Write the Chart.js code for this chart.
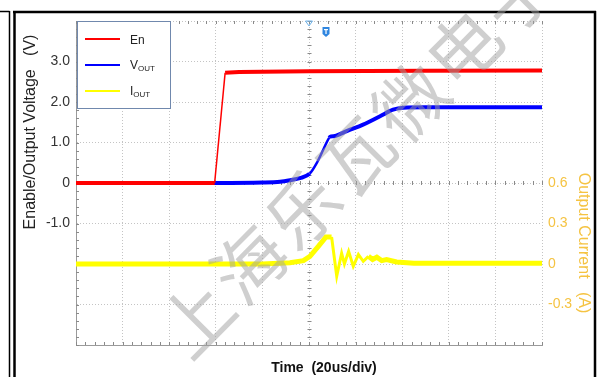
<!DOCTYPE html>
<html>
<head>
<meta charset="utf-8">
<script src="https://cdn.jsdelivr.net/npm/chart.js@4.4.1/dist/chart.umd.min.js"></script>
<style>
html,body{margin:0;padding:0;background:#fff;}
canvas{display:block;}
</style>
</head>
<body>
<canvas id="scope" width="598" height="377"></canvas>
<script>
// time in us, 20us/div, trigger at 0
var timeEn = [-100, -40.5, -36, -30, 0, 50, 100];
var enVolts = [0, 0, 2.72, 2.74, 2.76, 2.77, 2.78];

var timeVout = [-100, -40, -20, -12.4, -8, -3.9, 0.3, 3.3, 6.1, 8.7, 9.5, 11.1, 13, 16.2, 23.2, 30.5, 36.1, 40.4, 50, 100];
var voutVolts = [0, 0, 0.01, 0.03, 0.07, 0.12, 0.23, 0.49, 0.82, 1.12, 1.15, 1.16, 1.2, 1.28, 1.44, 1.65, 1.81, 1.86, 1.87, 1.87];

var timeIout = [-100, -20, -8.2, -2.4, 0.4, 4.0, 7.3, 9.7, 11.9, 14.0, 15.2, 17.0, 19.0, 21.2, 23.3, 25.5, 27.3, 29.1, 31.2, 33.3, 37.6, 45, 100];
var ioutAmps = [0, 0, 0.01, 0.025, 0.057, 0.13, 0.2, 0.2, -0.09, 0.08, 0.0, 0.094, -0.017, 0.07, 0.02, 0.057, 0.033, 0.05, 0.025, 0.033, 0.015, 0.005, 0.005];

var voltLabels = ['3.0', '2.0', '1.0', '0', '-1.0'];
var ampLabels = ['0.6', '0.3', '0', '-0.3'];
var seriesNames = ['En', 'VOUT', 'IOUT'];
var watermark = '上海乐瓦微电子';

var AMBER = '#f5c342';
var FONT = '"Liberation Sans", Arial, sans-serif';

function pts(xs, ys){
  return xs.map(function(t, i){ return {x: t, y: ys[i]}; });
}

function line(ctx, x1, y1, x2, y2){
  ctx.beginPath(); ctx.moveTo(x1, y1); ctx.lineTo(x2, y2); ctx.stroke();
}

// draws frame, minor ticks, legend, titles, markers, watermark
var scopeDeco = {
  id: 'scopeDeco',
  beforeDraw: function(chart){
    var ctx = chart.ctx;
    ctx.save();
    ctx.fillStyle = '#fff';
    ctx.fillRect(0, 0, chart.width, chart.height);
    ctx.strokeStyle = '#000';
    ctx.lineWidth = 1.5;
    line(ctx, 0, 11.5, 9.5, 11.5);
    line(ctx, 9.5, 11, 9.5, 377);
    ctx.lineWidth = 2.5;
    line(ctx, 14.5, 11, 14.5, 377);
    line(ctx, 13, 12, 596, 12);
    line(ctx, 595, 11, 595, 377);
    ctx.restore();
  },
  beforeDatasetsDraw: function(chart){
    var ctx = chart.ctx, a = chart.chartArea;
    var xs = chart.scales.x, ys = chart.scales.y;
    var y0 = ys.getPixelForValue(0), x0 = Math.round(xs.getPixelForValue(0)) + 0.5;
    ctx.save();
    ctx.strokeStyle = '#8a8a8a';
    ctx.lineWidth = 1;
    for (var i = 0; i <= 50; i++){
      var px = Math.round(xs.getPixelForValue(-100 + i * 4)) + 0.5;
      line(ctx, px, a.top, px, a.top + 3);
      line(ctx, px, a.bottom, px, a.bottom - 3);
      line(ctx, px, y0 - 2, px, y0 + 2);
    }
    for (var j = 0; j <= 40; j++){
      var py = Math.round(ys.getPixelForValue(-4 + j * 0.2)) + 0.5;
      line(ctx, a.left, py, a.left + 3, py);
      line(ctx, x0 - 2, py, x0 + 2, py);
    }
    ctx.restore();
  },
  afterDatasetsDraw: function(chart){
    var ctx = chart.ctx, a = chart.chartArea;
    var xs = chart.scales.x;
    ctx.save();

    // legend box
    var lx = a.left + 1, ly = a.top, lw = 93, lh = 87;
    ctx.fillStyle = '#fff';
    ctx.fillRect(lx, ly, lw, lh);
    ctx.strokeStyle = '#7088ad';
    ctx.lineWidth = 1;
    ctx.strokeRect(lx + 0.5, ly + 0.5, lw, lh);
    chart.data.datasets.forEach(function(ds, i){
      var yy = ly + 18 + i * 26;
      ctx.strokeStyle = ds.borderColor;
      ctx.lineWidth = 2;
      line(ctx, lx + 8, yy, lx + 43, yy);
      ctx.fillStyle = '#222';
      ctx.textBaseline = 'middle';
      ctx.textAlign = 'left';
      var name = seriesNames[i];
      if (name.length > 2){
        ctx.font = '12px ' + FONT;
        ctx.fillText(name.charAt(0), lx + 53, yy + 1);
        var w = ctx.measureText(name.charAt(0)).width;
        ctx.font = '8px ' + FONT;
        ctx.fillText(name.slice(1), lx + 53 + w, yy + 4);
      } else {
        ctx.font = '12px ' + FONT;
        ctx.fillText(name, lx + 53, yy + 2);
      }
    });

    // trigger markers
    var tx = xs.getPixelForValue(0);
    ctx.strokeStyle = '#6fb3ea';
    ctx.lineWidth = 1;
    ctx.beginPath();
    ctx.moveTo(tx - 3.5, a.top); ctx.lineTo(tx + 3.5, a.top); ctx.lineTo(tx, a.top + 5); ctx.closePath();
    ctx.stroke();
    var mx = xs.getPixelForValue(7.3);
    ctx.fillStyle = '#2f86e0';
    ctx.beginPath();
    ctx.moveTo(mx - 3.5, a.top + 6); ctx.lineTo(mx + 3.5, a.top + 6); ctx.lineTo(mx + 3.5, a.top + 13);
    ctx.lineTo(mx, a.top + 16); ctx.lineTo(mx - 3.5, a.top + 13); ctx.closePath();
    ctx.fill();
    ctx.fillStyle = '#fff';
    ctx.fillRect(mx - 2, a.top + 8, 4, 1.2);
    ctx.fillRect(mx - 0.6, a.top + 8, 1.2, 5);

    // axis titles
    ctx.fillStyle = '#222';
    ctx.textAlign = 'center';
    ctx.textBaseline = 'middle';
    ctx.font = '16px ' + FONT;
    ctx.save();
    ctx.translate(31, 132);
    ctx.rotate(-Math.PI / 2);
    ctx.fillText('Enable/Output Voltage   (V)', 0, 0);
    ctx.restore();

    ctx.fillStyle = AMBER;
    ctx.save();
    ctx.translate(583, 243);
    ctx.rotate(Math.PI / 2);
    ctx.fillText('Output Current   (A)', 0, 0);
    ctx.restore();

    ctx.fillStyle = '#111';
    ctx.font = 'bold 14px ' + FONT;
    ctx.textBaseline = 'alphabetic';
    ctx.fillText('Time  (20us/div)', 324, 372);

    // watermark
    ctx.fillStyle = 'rgba(160,160,160,0.5)';
    ctx.font = '72px "Noto Sans CJK SC", sans-serif';
    ctx.textBaseline = 'middle';
    var ang = Math.atan2(-54, 53.5);
    for (var k = 0; k < watermark.length; k++){
      ctx.save();
      ctx.translate(196 + k * 53.5, 318 - k * 54);
      ctx.rotate(ang);
      ctx.fillText(watermark.charAt(k), 0, 0);
      ctx.restore();
    }
    ctx.restore();
  }
};

var ctx = document.getElementById('scope').getContext('2d');
new Chart(ctx, {
  type: 'line',
  data: {
    datasets: [{
      label: seriesNames[0],
      data: pts(timeEn, enVolts),
      borderColor: '#ff0000',
      borderWidth: 4,
      yAxisID: 'y',
      segment: { borderWidth: function(c){ return c.p0DataIndex === 1 ? 1.5 : 4; } }
    }, {
      label: seriesNames[1],
      data: pts(timeVout, voutVolts),
      borderColor: '#0000ff',
      borderWidth: 4,
      yAxisID: 'y',
      cubicInterpolationMode: 'monotone',
      segment: { borderWidth: function(c){ return (c.p0DataIndex >= 6 && c.p0DataIndex <= 8) ? 2.5 : 4; } }
    }, {
      label: seriesNames[2],
      data: pts(timeIout, ioutAmps),
      borderColor: '#ffff00',
      borderWidth: 5,
      yAxisID: 'y2',
      segment: { borderWidth: function(c){ return (c.p0DataIndex >= 7 && c.p0DataIndex <= 14) ? 3 : 5; } }
    }]
  },
  options: {
    responsive: false,
    animation: false,
    elements: { point: { radius: 0 }, line: { tension: 0 } },
    layout: { padding: { top: 21, left: 0, right: 0, bottom: 0 } },
    plugins: { legend: { display: false }, tooltip: { enabled: false } },
    scales: {
      x: {
        type: 'linear',
        min: -100, max: 100,
        ticks: { display: false, stepSize: 20 },
        grid: { color: '#c4c4c4', drawTicks: false },
        border: { display: true, color: '#9a9a9a', dash: [1, 2] },
        afterFit: function(s){ s.height = 32; }
      },
      y: {
        position: 'left',
        min: -4, max: 4,
        ticks: {
          stepSize: 1, padding: 6, color: '#333',
          font: { family: FONT, size: 14 },
          callback: function(v){
            var s = v.toFixed(1);
            if (v === 0) s = '0';
            return voltLabels.indexOf(s) >= 0 ? s : '';
          }
        },
        grid: { color: '#c4c4c4', drawTicks: false },
        border: { display: true, color: '#9a9a9a', dash: [1, 2] },
        afterFit: function(s){ s.width = 76; }
      },
      y2: {
        position: 'right',
        min: -0.6, max: 1.8,
        ticks: {
          stepSize: 0.3, padding: 6, color: AMBER,
          font: { family: FONT, size: 14 },
          callback: function(v){
            var r = Math.round(v * 10) / 10;
            var s = r === 0 ? '0' : r.toFixed(1);
            return ampLabels.indexOf(s) >= 0 ? s : '';
          }
        },
        grid: { display: false, drawTicks: false },
        border: { display: false },
        afterFit: function(s){ s.width = 56; }
      }
    }
  },
  plugins: [scopeDeco]
});
</script>
</body>
</html>
